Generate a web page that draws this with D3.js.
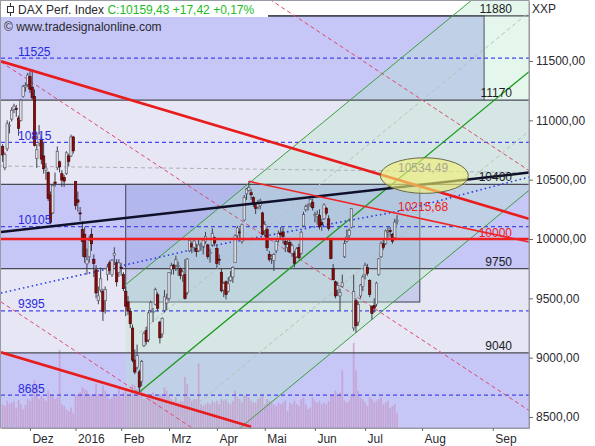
<!DOCTYPE html>
<html>
<head>
<meta charset="utf-8">
<script src="https://cdn.jsdelivr.net/npm/d3@7"></script>
<style>
  body { margin: 0; background: #fff; }
  svg text { font-family: "Liberation Sans", Arial, sans-serif; font-size: 12px; }
</style>
</head>
<body>
<div id="chart"></div>
<script>
// Daily DAX bars: date, open, high, low, close
var ohlc = [
  ["2015-11-13",10780,10800,10650,10708],["2015-11-16",10600,10730,10580,10713],["2015-11-17",10760,11000,10740,10971],
  ["2015-11-18",10950,10990,10890,10960],["2015-11-19",11010,11110,10990,11085],["2015-11-20",11090,11140,11060,11119],
  ["2015-11-23",11100,11130,11030,11092],["2015-11-24",11020,11040,10870,10933],["2015-11-25",11000,11180,10990,11170],
  ["2015-11-26",11200,11300,11190,11285],["2015-11-27",11280,11320,11240,11293],["2015-11-30",11300,11400,11280,11382],
  ["2015-12-01",11370,11420,11230,11261],["2015-12-02",11280,11430,11170,11190],["2015-12-03",11200,11260,10780,10789],
  ["2015-12-04",10680,10800,10600,10752],["2015-12-07",10810,10960,10780,10886],["2015-12-08",10840,10860,10630,10673],
  ["2015-12-09",10700,10810,10550,10592],["2015-12-10",10580,10640,10500,10598],["2015-12-11",10560,10570,10320,10340],
  ["2015-12-14",10370,10400,10124,10139],["2015-12-15",10220,10460,10210,10450],["2015-12-16",10480,10560,10440,10469],
  ["2015-12-17",10600,10780,10580,10738],["2015-12-18",10650,10660,10560,10608],["2015-12-21",10550,10580,10440,10497],
  ["2015-12-22",10520,10540,10440,10488],["2015-12-23",10550,10740,10540,10727],["2015-12-28",10700,10720,10610,10653],
  ["2015-12-29",10700,10880,10690,10860],["2015-12-30",10860,10870,10720,10743],
  ["2016-01-04",10485,10485,10248,10283],["2016-01-05",10330,10400,10230,10310],["2016-01-06",10220,10270,10150,10214],
  ["2016-01-07",10080,10150,9850,9979],["2016-01-08",10040,10100,9800,9849],["2016-01-11",9790,9920,9700,9825],
  ["2016-01-12",9850,10030,9800,9985],["2016-01-13",10040,10090,9900,9960],["2016-01-14",9830,9870,9680,9794],
  ["2016-01-15",9740,9780,9500,9545],["2016-01-18",9480,9600,9450,9521],["2016-01-19",9570,9760,9550,9664],
  ["2016-01-20",9560,9580,9310,9391],["2016-01-21",9480,9600,9370,9574],["2016-01-22",9700,9790,9650,9764],
  ["2016-01-25",9800,9820,9700,9736],["2016-01-26",9700,9830,9680,9822],["2016-01-27",9860,9930,9780,9880],
  ["2016-01-28",9800,9830,9600,9639],["2016-01-29",9720,9830,9680,9798],
  ["2016-02-01",9760,9800,9690,9757],["2016-02-02",9700,9720,9560,9581],["2016-02-03",9560,9600,9350,9434],
  ["2016-02-04",9470,9520,9360,9393],["2016-02-05",9390,9420,9250,9286],["2016-02-08",9250,9280,8960,8979],
  ["2016-02-09",8980,9070,8860,8879],["2016-02-10",8920,9110,8900,9017],["2016-02-11",8880,8900,8699,8752],
  ["2016-02-12",8800,8980,8760,8967],["2016-02-15",9100,9220,9090,9206],["2016-02-16",9230,9260,9110,9135],
  ["2016-02-17",9150,9390,9130,9377],["2016-02-18",9400,9480,9380,9463],["2016-02-19",9380,9420,9300,9388],
  ["2016-02-22",9450,9590,9440,9574],["2016-02-23",9530,9550,9390,9416],["2016-02-24",9300,9310,9120,9167],
  ["2016-02-25",9200,9340,9170,9331],["2016-02-26",9400,9570,9380,9513],["2016-02-29",9460,9540,9400,9495],
  ["2016-03-01",9500,9720,9480,9717],["2016-03-02",9740,9800,9700,9776],["2016-03-03",9780,9790,9700,9751],
  ["2016-03-04",9780,9860,9730,9824],["2016-03-07",9770,9810,9690,9778],["2016-03-08",9750,9760,9660,9692],
  ["2016-03-09",9690,9740,9640,9723],["2016-03-10",9700,9830,9490,9498],["2016-03-11",9550,9840,9530,9831],
  ["2016-03-14",9900,10010,9890,9990],["2016-03-15",9960,9980,9880,9933],["2016-03-16",9930,10000,9890,9983],
  ["2016-03-17",9920,9960,9850,9893],["2016-03-18",9900,10000,9890,9950],["2016-03-21",9940,9970,9900,9948],
  ["2016-03-22",9940,10000,9870,9990],["2016-03-23",9980,10060,9960,10022],["2016-03-24",9950,9960,9830,9851],
  ["2016-03-29",9880,9920,9800,9887],["2016-03-30",9950,10090,9940,10046],["2016-03-31",10010,10020,9940,9966],
  ["2016-04-01",9920,9950,9750,9794],["2016-04-04",9830,9870,9780,9822],["2016-04-05",9720,9750,9550,9563],
  ["2016-04-06",9570,9640,9510,9624],["2016-04-07",9640,9650,9490,9531],["2016-04-08",9560,9680,9550,9622],
  ["2016-04-11",9650,9730,9640,9682],["2016-04-12",9680,9770,9630,9761],["2016-04-13",9800,10040,9800,10026],
  ["2016-04-14",10030,10110,10000,10094],["2016-04-15",10060,10090,10010,10051],["2016-04-18",9980,10130,9960,10120],
  ["2016-04-19",10160,10370,10150,10350],["2016-04-20",10380,10430,10330,10421],["2016-04-21",10410,10486,10400,10435],
  ["2016-04-22",10390,10420,10330,10373],["2016-04-25",10350,10360,10270,10294],["2016-04-26",10290,10300,10210,10259],
  ["2016-04-27",10270,10330,10250,10300],["2016-04-28",10280,10340,10250,10321],["2016-04-29",10220,10230,10030,10039],
  ["2016-05-02",10070,10150,10020,10123],["2016-05-03",10080,10100,9900,9926],["2016-05-04",9870,9900,9810,9829],
  ["2016-05-05",9840,9870,9790,9852],["2016-05-06",9820,9880,9730,9869],["2016-05-09",9900,9990,9880,9980],
  ["2016-05-10",10000,10070,9970,10045],["2016-05-11",10050,10100,10010,10036],["2016-05-12",10060,10100,9960,10020],
  ["2016-05-13",9980,10010,9890,9952],["2016-05-16",9930,9990,9890,9952],["2016-05-17",9970,10000,9880,9891],
  ["2016-05-18",9880,9960,9850,9943],["2016-05-19",9880,9900,9760,9795],["2016-05-20",9850,9930,9840,9917],
  ["2016-05-23",9930,9960,9830,9842],["2016-05-24",9880,10070,9870,10057],["2016-05-25",10110,10230,10100,10205],
  ["2016-05-26",10250,10290,10230,10272],["2016-05-27",10280,10300,10240,10287],["2016-05-30",10300,10340,10270,10333],
  ["2016-05-31",10310,10340,10240,10263],
  ["2016-06-01",10200,10230,10140,10205],["2016-06-02",10190,10240,10120,10208],["2016-06-03",10200,10250,10080,10103],
  ["2016-06-06",10140,10170,10070,10121],["2016-06-07",10170,10300,10160,10287],["2016-06-08",10260,10270,10200,10218],
  ["2016-06-09",10170,10200,10070,10088],["2016-06-10",10000,10010,9830,9834],["2016-06-13",9750,9790,9650,9657],
  ["2016-06-14",9640,9650,9500,9520],["2016-06-15",9570,9640,9520,9607],["2016-06-16",9520,9580,9400,9551],
  ["2016-06-17",9600,9700,9590,9631],["2016-06-20",9850,9990,9840,9962],["2016-06-21",9980,10080,9970,10016],
  ["2016-06-22",10030,10090,10000,10071],["2016-06-23",10100,10260,10090,10257],["2016-06-24",9250,9700,9226,9557],
  ["2016-06-27",9480,9500,9210,9268],["2016-06-28",9300,9470,9270,9447],["2016-06-29",9520,9620,9500,9612],
  ["2016-06-30",9600,9700,9560,9680],
  ["2016-07-01",9700,9800,9660,9776],["2016-07-04",9760,9790,9690,9709],["2016-07-05",9650,9660,9510,9532],
  ["2016-07-06",9430,9440,9320,9373],["2016-07-07",9440,9500,9380,9418],["2016-07-08",9450,9640,9430,9629],
  ["2016-07-11",9700,9840,9690,9833],["2016-07-12",9850,9980,9840,9964],["2016-07-13",9960,10000,9910,9930],
  ["2016-07-14",9960,10080,9950,10068],["2016-07-15",10060,10100,10010,10066],["2016-07-18",10070,10100,10020,10063],
  ["2016-07-19",10040,10050,9960,9981],["2016-07-20",10010,10170,10000,10142],["2016-07-21",10150,10200,10120,10159.43]
];

// Daily volume (million shares)
var volume = [
  70,65,80,72,75,78,60,82,70,55,68,85,
  80,90,140,120,85,95,88,80,110,100,95,85,90,230,70,65,55,50,60,45,
  95,100,105,120,115,110,100,95,100,130,100,95,125,110,100,85,90,95,100,115,
  90,105,110,100,105,130,125,115,140,110,85,95,100,95,105,80,90,100,95,120,110,
  95,85,80,90,75,80,78,150,130,90,80,85,85,190,70,65,70,75,70,80,75,
  80,70,85,80,85,75,70,80,110,90,85,75,95,100,90,80,75,75,85,90,100,
  70,85,80,75,70,65,75,70,75,80,50,75,70,80,70,65,85,90,70,55,60,90,
  80,75,80,70,75,70,80,95,100,110,95,105,170,80,75,80,95,250,170,110,90,85,
  75,65,90,85,75,80,85,90,70,75,80,60,65,70,45
];

// Axis ticks (bar index of the month start) and labels
var monthIdx = [12, 32, 52, 73, 94, 115, 137, 159, 184, 215];
var monthLabels = ["Dez", "2016", "Feb", "Mrz", "Apr", "Mai", "Jun", "Jul", "Aug", "Sep"];
var priceTicks = [8500, 9000, 9500, 10000, 10500, 11000, 11500];

// Drawing objects, all in (bar index, price)
var zoneLevels = [11880, 11170, 10460, 9750, 9040];
var fibLevels = [11525, 10815, 10105, 9395, 8685];
var topZoneEnd = 211.2;
var rangeBox = [54, 183, 10460, 9469];
var resistLine = [[-0.7, 11497], [230.9, 10170]];
var supportLine = [[-0.7, 9045], [109, 8418]];
var blackTrend = [[-0.7, 10059], [230.9, 10560]];
var aprilLine = [[108, 10486], [230.9, 9975]];
var blueDots = [[-0.7, 9545], [86.6, 9924], [174.3, 10236], [230.9, 10522]];
var grayLevel = [[-0.7, 10615], [230.9, 10560]];
var fanStarts = [13514, 11492, 9470];
var fanSlope = -12.68;
var forkPivot = [60, 8710];
var forkSlope = 15.8;
var forkWidth = 1000;
var ellipseCenter = [185, 10534.49];
var ellipseRadius = [19.3, 150];
var lastClose = 10159.43;
var aprilLineValue = 10215.68;

var svgWidth = 595;
var svgHeight = 446;
var plot = { left: 1, right: 529, top: 1, bottom: 428 };

var svg = d3.select("#chart")
  .append("svg")
  .attr("width", svgWidth)
  .attr("height", svgHeight);

var x = d3.scaleLinear().domain([-0.7, 230.9]).range([plot.left, plot.right]);
var y = d3.scaleLinear().domain([8407.3, 12005.6]).range([plot.bottom, plot.top]);
var volH = d3.scaleLinear().domain([0, 250]).range([0, 85]);

var line = d3.line().x(d => x(d[0])).y(d => y(d[1]));

svg.append("clipPath").attr("id", "clip")
  .append("rect")
  .attr("x", plot.left).attr("y", plot.top)
  .attr("width", plot.right - plot.left).attr("height", plot.bottom - plot.top);

var g = svg.append("g").attr("clip-path", "url(#clip)");

// background
g.append("rect")
  .attr("x", plot.left).attr("y", plot.top)
  .attr("width", plot.right - plot.left).attr("height", plot.bottom - plot.top)
  .attr("fill", "#ffffff");

// zones between the level lines
var zoneFill = ["#c6c6f7", "#e6e6f5", "#c6c6f7", "#e6e6f5", "#c6c6f7"];
zoneLevels.forEach(function(lv, i) {
  var lower = i < zoneLevels.length - 1 ? zoneLevels[i + 1] : 8407.3;
  var right = i === 0 ? x(topZoneEnd) : plot.right;
  g.append("rect")
    .attr("x", plot.left)
    .attr("y", y(lv))
    .attr("width", right - plot.left)
    .attr("height", y(lower) - y(lv))
    .attr("fill", zoneFill[i]);
});

// top zone box outline
g.append("path")
  .attr("d", `M${plot.left},${y(zoneLevels[0])}H${x(topZoneEnd)}V${y(zoneLevels[1])}`)
  .attr("fill", "none")
  .attr("stroke", "#303040")
  .attr("stroke-width", 1.2);

// range box
g.append("rect")
  .attr("x", x(rangeBox[0]))
  .attr("y", y(rangeBox[2]))
  .attr("width", x(rangeBox[1]) - x(rangeBox[0]))
  .attr("height", y(rangeBox[3]) - y(rangeBox[2]))
  .attr("fill", "#8c9ad8")
  .attr("fill-opacity", 0.35)
  .attr("stroke", "#404050")
  .attr("stroke-width", 1);

// pitchfork
function fork(i, off) { return forkPivot[1] + forkSlope * (i - forkPivot[0]) + off; }
var forkStart = 54;
var forkEnd = 230.9;

g.append("path")
  .attr("d", line([[forkStart, fork(forkStart, forkWidth)], [forkEnd, fork(forkEnd, forkWidth)],
                   [forkEnd, fork(forkEnd, -forkWidth)], [forkStart, fork(forkStart, -forkWidth)]]) + "Z")
  .attr("fill", "#b4e6c8")
  .attr("fill-opacity", 0.35);

// volume
g.selectAll(".vol")
  .data(volume)
  .enter()
  .append("rect")
  .attr("x", (d, i) => x(i) - 0.8)
  .attr("y", d => plot.bottom - volH(d))
  .attr("width", 1.6)
  .attr("height", d => volH(d))
  .attr("fill", "#c498c8")
  .attr("fill-opacity", 0.75);

// zone level lines
zoneLevels.forEach(function(lv) {
  g.append("line")
    .attr("x1", plot.left).attr("x2", plot.right)
    .attr("y1", y(lv)).attr("y2", y(lv))
    .attr("stroke", "#4a4a55")
    .attr("stroke-width", 1.2);
});

// fib levels (blue dashed)
fibLevels.forEach(function(lv) {
  g.append("line")
    .attr("x1", plot.left).attr("x2", plot.right)
    .attr("y1", y(lv)).attr("y2", y(lv))
    .attr("stroke", "#4646ee")
    .attr("stroke-width", 1.2)
    .attr("stroke-dasharray", "4,3");
});

// gray dashed level
g.append("path")
  .attr("d", line(grayLevel))
  .attr("fill", "none")
  .attr("stroke", "#b0b0b8")
  .attr("stroke-width", 1)
  .attr("stroke-dasharray", "4,3");

// fork quarter lines
[forkWidth / 2, -forkWidth / 2].forEach(function(off) {
  g.append("path")
    .attr("d", line([[forkPivot[0], fork(forkPivot[0], off)], [forkEnd, fork(forkEnd, off)]]))
    .attr("fill", "none")
    .attr("stroke", "#b8c0b8")
    .attr("stroke-width", 1)
    .attr("stroke-dasharray", "4,3");
});

// red dashed fan
fanStarts.forEach(function(v) {
  g.append("path")
    .attr("d", line([[-0.7, v], [230.9, v + fanSlope * 231.6]]))
    .attr("fill", "none")
    .attr("stroke", "#e0486a")
    .attr("stroke-width", 1)
    .attr("stroke-dasharray", "4,3");
});

// fork lines
g.append("path")
  .attr("d", line([[forkPivot[0], fork(forkPivot[0], 0)], [forkEnd, fork(forkEnd, 0)]]))
  .attr("fill", "none").attr("stroke", "#1a9a1a").attr("stroke-width", 1.3);
[forkWidth, -forkWidth].forEach(function(off) {
  g.append("path")
    .attr("d", line([[forkStart, fork(forkStart, off)], [forkEnd, fork(forkEnd, off)]]))
    .attr("fill", "none").attr("stroke", "#3aa03a").attr("stroke-width", 1);
});

// blue dotted
g.append("path")
  .attr("d", line(blueDots))
  .attr("fill", "none")
  .attr("stroke", "#2a3ae8")
  .attr("stroke-width", 1.6)
  .attr("stroke-dasharray", "1.5,3");

// candles
var bars = g.selectAll(".bar")
  .data(ohlc)
  .enter()
  .append("g");

bars.append("line")
  .attr("x1", (d, i) => x(i)).attr("x2", (d, i) => x(i))
  .attr("y1", d => y(d[2])).attr("y2", d => y(d[3]))
  .attr("stroke", "#40404c")
  .attr("stroke-width", 1);

bars.append("rect")
  .attr("x", (d, i) => x(i) - 1.2)
  .attr("y", d => y(Math.max(d[1], d[4])))
  .attr("width", 2.4)
  .attr("height", d => Math.max(1, Math.abs(y(d[1]) - y(d[4]))))
  .attr("fill", d => d[4] >= d[1] ? "#dcdce4" : "#8c0a0a")
  .attr("stroke", d => d[4] >= d[1] ? "#50505c" : "#3a0000")
  .attr("stroke-width", 0.6);

// black trend line
g.append("path")
  .attr("d", line(blackTrend))
  .attr("fill", "none")
  .attr("stroke", "#10102a")
  .attr("stroke-width", 2.5);

// red lines
g.append("line")
  .attr("x1", plot.left).attr("x2", plot.right)
  .attr("y1", y(10000)).attr("y2", y(10000))
  .attr("stroke", "#f01e1e")
  .attr("stroke-width", 2.6);

[resistLine, supportLine].forEach(function(l) {
  g.append("path")
    .attr("d", line(l))
    .attr("fill", "none")
    .attr("stroke", "#e81c1c")
    .attr("stroke-width", 2.6);
});

g.append("path")
  .attr("d", line(aprilLine))
  .attr("fill", "none")
  .attr("stroke", "#f02424")
  .attr("stroke-width", 1.6);

// ellipse
g.append("ellipse")
  .attr("cx", x(ellipseCenter[0]))
  .attr("cy", y(ellipseCenter[1]))
  .attr("rx", x(ellipseRadius[0]) - x(0))
  .attr("ry", y(0) - y(ellipseRadius[1]))
  .attr("fill", "#f2f070")
  .attr("fill-opacity", 0.62)
  .attr("stroke", "#6a6a48")
  .attr("stroke-width", 1);

// level labels
zoneLevels.forEach(function(lv) {
  g.append("text")
    .attr("x", 512).attr("y", y(lv) - 3)
    .attr("text-anchor", "end")
    .attr("fill", "#1c1c24")
    .text(lv);
});

fibLevels.forEach(function(lv) {
  g.append("text")
    .attr("x", 18).attr("y", y(lv) - 2.5)
    .attr("fill", "#2a2ae0")
    .text(lv);
});

var de = d3.formatLocale({ decimal: ",", thousands: ".", grouping: [3], currency: ["", ""] });
var fmt2 = de.format(".2f");

g.append("text")
  .attr("x", 512).attr("y", y(10000) - 2)
  .attr("text-anchor", "end")
  .attr("fill", "#f02020")
  .text("10000");

g.append("text")
  .attr("x", x(173) + 1).attr("y", y(aprilLineValue) - 2)
  .attr("fill", "#f02020")
  .text(fmt2(aprilLineValue));

g.append("text")
  .attr("x", x(173) + 1).attr("y", y(ellipseCenter[1]) - 4)
  .attr("fill", "#a8a890")
  .text(fmt2(ellipseCenter[1]));

// frame and axes
svg.append("rect")
  .attr("x", plot.left - 0.5).attr("y", plot.top - 0.5)
  .attr("width", plot.right - plot.left + 0.5).attr("height", plot.bottom - plot.top + 0.5)
  .attr("fill", "none")
  .attr("stroke", "#9a9aa4");

var rightAxis = d3.axisRight(y)
  .tickValues(priceTicks)
  .tickSize(4)
  .tickPadding(3)
  .tickSizeOuter(0)
  .tickFormat(fmt2);

var ya = svg.append("g")
  .attr("transform", `translate(${plot.right}, 0)`)
  .call(rightAxis);
ya.select(".domain").attr("stroke", "#9a9aa4");
ya.selectAll(".tick line").attr("stroke", "#6a6a74");
ya.selectAll("text").attr("fill", "#2a2a30").style("font-size", "12px");

var bottomAxis = d3.axisBottom(x)
  .tickValues(monthIdx)
  .tickSize(3)
  .tickPadding(3)
  .tickSizeOuter(0)
  .tickFormat((d, i) => monthLabels[i]);

var xa = svg.append("g")
  .attr("transform", `translate(0, ${plot.bottom})`)
  .call(bottomAxis);
xa.select(".domain").attr("stroke", "#9a9aa4");
xa.selectAll(".tick line").attr("stroke", "#6a6a74");
xa.selectAll("text")
  .attr("text-anchor", "start")
  .attr("dx", 2)
  .attr("fill", "#2a2a30")
  .style("font-size", "12px");

svg.append("text")
  .attr("x", 532).attr("y", 13)
  .attr("fill", "#2a2a30")
  .text("XXP");

// title box
svg.append("rect")
  .attr("x", 1).attr("y", 1)
  .attr("width", 267).attr("height", 16)
  .attr("fill", "#ffffff");

svg.append("line")
  .attr("x1", 10.5).attr("x2", 10.5).attr("y1", 3).attr("y2", 16)
  .attr("stroke", "#303038");
svg.append("rect")
  .attr("x", 7.5).attr("y", 6.5).attr("width", 6).attr("height", 6)
  .attr("fill", "#ffffff").attr("stroke", "#303038");

var title = svg.append("text").attr("x", 18).attr("y", 14);
title.append("tspan").attr("fill", "#2a2a30").text("DAX Perf. Index ");
title.append("tspan").attr("fill", "#22bb22").text("C:" + fmt2(lastClose) + " +17,42 +0,17%");

svg.append("text")
  .attr("x", 4).attr("y", 31)
  .attr("fill", "#2a2a30")
  .text("© www.tradesignalonline.com");
</script>
</body>
</html>
